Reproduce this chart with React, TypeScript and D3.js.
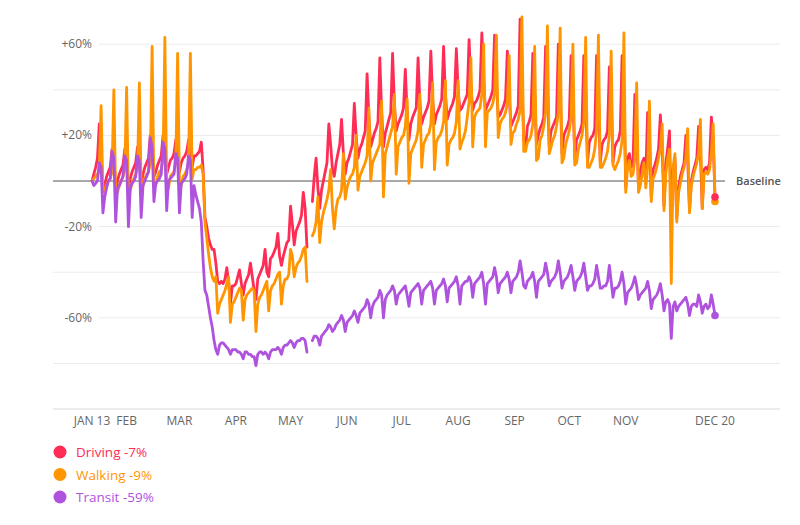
import React from "react";
import * as d3 from "d3";

// Daily values (% change vs Jan 13 baseline), one row per week Mon..Sun, Jan 13 – Dec 20 2020
const drivingWeeks: (number | null)[][] = [
  [0, 3, 6, 10, 25, 12, -3],
  [-2, 2, 4, 6, 14, 10, -4],
  [0, 3, 5, 7, 14, 10, -3],
  [1, 4, 6, 8, 15, 11, -2],
  [3, 6, 8, 10, 20, 14, 2],
  [4, 7, 9, 11, 20, 15, 3],
  [6, 9, 10, 12, 18, 14, 4],
  [8, 10, 11, 13, 18, 13, 6],
  [11, 11, 12, 13, 17, 5, -16],
  [-20, -25, -28, -30, -30, -36, -44],
  [-45, -44, -45, -43, -38, -44, -54],
  [-46, -46, -45, -42, -39, -45, -50],
  [-45, -43, -41, -36, -42, -48, -52],
  [-43, -41, -39, -37, -30, -40, -42],
  [-34, -33, -31, -29, -23, -33, -37],
  [-33, -30, -27, -26, -11, -19, -28],
  [-22, -20, -18, -15, -5, -12, -29],
  [null, null, -9, 2, 10, -3, -12],
  [-4, 0, 4, 8, 25, 16, 5],
  [2, 8, 12, 16, 27, 12, 3],
  [8, 10, 13, 16, 34, 20, 10],
  [14, 16, 19, 22, 47, 28, 15],
  [18, 21, 23, 26, 54, 30, 15],
  [21, 24, 27, 30, 56, 34, 22],
  [25, 27, 29, 32, 49, 30, 18],
  [25, 28, 30, 32, 54, 34, 25],
  [28, 30, 32, 35, 57, 36, 25],
  [29, 31, 33, 36, 59, 38, 27],
  [30, 32, 34, 37, 58, 40, 31],
  [32, 34, 36, 38, 62, 42, 31],
  [34, 35, 37, 40, 65, 44, 31],
  [33, 35, 37, 40, 64, 44, 28],
  [29, 31, 33, 36, 57, 38, 24],
  [26, 28, 30, 33, 71, 44, 18],
  [14, 24, 26, 29, 56, 38, 16],
  [20, 23, 25, 28, 59, 40, 15],
  [22, 24, 26, 28, 60, 40, 12],
  [20, 22, 24, 27, 55, 38, 10],
  [18, 20, 22, 25, 55, 38, 8],
  [17, 19, 20, 23, 55, 38, 8],
  [16, 18, 19, 22, 50, 35, 8],
  [15, 17, 18, 22, 55, 38, -3],
  [10, 12, 6, 8, 38, 22, -3],
  [4, 8, 10, 2, 30, 20, -7],
  [5, 7, 10, 14, 29, 15, -11],
  [8, 14, 22, -18, 5, 10, -16],
  [-3, 2, 5, 8, 20, 10, -13],
  [0, 4, 7, 10, 24, 12, -12],
  [5, 6, 5, 8, 28, 18, -7],
];

const walkingWeeks: (number | null)[][] = [
  [0, 1, 2, 3, 5, 33, -5],
  [-4, -2, 0, 1, 4, 40, -6],
  [-5, -2, 0, 2, 5, 41, -7],
  [-4, -1, 1, 3, 6, 43, -3],
  [-2, 1, 3, 4, 8, 59, -2],
  [-2, 2, 4, 5, 9, 63, -1],
  [-3, 2, 3, 4, 8, 56, 0],
  [-2, 2, 3, 5, 8, 56, 1],
  [5, 5, 6, 6, 7, 3, -18],
  [-25, -32, -38, -42, -44, -42, -58],
  [-54, -52, -50, -48, -45, -42, -62],
  [-54, -53, -51, -49, -47, -48, -61],
  [-52, -50, -49, -48, -47, -48, -66],
  [-54, -51, -50, -48, -46, -44, -57],
  [-48, -46, -45, -43, -41, -40, -54],
  [-46, -43, -43, -41, -30, -33, -42],
  [-38, -36, -35, -33, -30, -29, -44],
  [null, null, -24, -22, -18, -7, -27],
  [-18, -14, -11, -8, -4, 5, -12],
  [-21, -12, -8, -7, -4, 12, -8],
  [-3, 0, 2, 3, 6, 20, -4],
  [2, 4, 6, 8, 11, 32, 0],
  [8, 10, 12, 14, 16, 35, -7],
  [12, 15, 18, 21, 24, 38, 3],
  [15, 17, 19, 20, 24, 36, -1],
  [12, 14, 16, 18, 22, 38, 6],
  [16, 18, 20, 21, 25, 43, 5],
  [17, 19, 20, 22, 26, 44, 7],
  [16, 18, 19, 21, 26, 44, 14],
  [17, 19, 22, 28, 35, 54, 15],
  [28, 30, 31, 32, 38, 60, 15],
  [30, 31, 32, 34, 38, 64, 19],
  [25, 27, 28, 30, 34, 55, 16],
  [21, 22, 25, 27, 31, 72, 13],
  [13, 17, 18, 20, 25, 59, 9],
  [10, 18, 20, 24, 30, 68, 12],
  [15, 18, 20, 24, 30, 67, 8],
  [10, 16, 19, 22, 28, 60, 7],
  [8, 14, 17, 20, 26, 63, 6],
  [6, 8, 10, 14, 22, 64, 6],
  [6, 8, 10, 13, 20, 57, 7],
  [5, 7, 9, 12, 18, 65, -5],
  [6, 9, 2, 3, 10, 43, -5],
  [-2, 3, 8, -3, 6, 35, -9],
  [1, 3, 6, 10, 14, 25, -13],
  [3, 10, 14, -45, 6, 12, -18],
  [-5, -1, 3, 6, 10, 23, -14],
  [-2, 2, 5, 8, 12, 27, -12],
  [3, 4, 3, 5, 12, 25, -9],
];

const transitWeeks: (number | null)[][] = [
  [0, -2, -1, 0, 8, 6, -14],
  [-7, -3, 0, 1, 13, 10, -18],
  [-3, -2, 0, 2, 11, 9, -20],
  [-3, -1, 0, 2, 11, 9, -16],
  [-2, 0, 2, 4, 19, 15, -9],
  [-1, 0, 1, 3, 17, 14, -13],
  [0, 1, 2, 3, 12, 10, -14],
  [-1, 0, 1, 3, 11, 9, -16],
  [-2, -6, -9, -12, -18, -35, -48],
  [-50, -55, -60, -64, -70, -74, -76],
  [-72, -71, -71, -72, -73, -74, -76],
  [-74, -74, -74, -75, -75, -76, -78],
  [-75, -75, -76, -76, -77, -77, -81],
  [-76, -75, -75, -76, -75, -76, -78],
  [-75, -74, -74, -74, -73, -74, -76],
  [-73, -72, -72, -71, -70, -71, -73],
  [-71, -70, -70, -69, -69, -70, -75],
  [null, null, -70, -68, -68, -69, -72],
  [-68, -67, -66, -65, -63, -64, -66],
  [-65, -63, -62, -61, -59, -61, -66],
  [-62, -61, -60, -59, -57, -59, -62],
  [-58, -57, -56, -55, -52, -54, -60],
  [-55, -53, -52, -51, -48, -50, -60],
  [-52, -50, -49, -48, -46, -48, -54],
  [-50, -49, -48, -47, -46, -50, -55],
  [-49, -48, -47, -46, -45, -47, -54],
  [-48, -47, -46, -45, -44, -47, -54],
  [-48, -47, -46, -45, -43, -46, -53],
  [-47, -46, -45, -44, -42, -46, -54],
  [-46, -45, -44, -44, -42, -44, -51],
  [-45, -44, -43, -42, -40, -45, -54],
  [-45, -44, -43, -42, -38, -42, -49],
  [-45, -44, -43, -42, -40, -43, -49],
  [-44, -43, -42, -40, -35, -40, -46],
  [-47, -44, -43, -42, -40, -44, -51],
  [-44, -43, -42, -41, -36, -40, -46],
  [-44, -43, -42, -40, -35, -40, -47],
  [-44, -43, -42, -40, -37, -42, -48],
  [-44, -43, -42, -40, -36, -42, -48],
  [-46, -46, -45, -43, -37, -42, -47],
  [-47, -46, -46, -44, -37, -44, -51],
  [-47, -47, -46, -44, -40, -45, -54],
  [-49, -48, -47, -45, -42, -46, -52],
  [-50, -49, -48, -47, -44, -48, -56],
  [-52, -51, -50, -48, -45, -50, -57],
  [-53, -52, -54, -69, -55, -53, -57],
  [-55, -54, -53, -52, -51, -54, -59],
  [-55, -54, -54, -55, -50, -53, -58],
  [-55, -54, -56, -55, -50, -54, -59],
];

const yTickValues = [60, 20, -20, -60];
const yTickLabels = ["+60%", "+20%", "-20%", "-60%"];
const yPlainGrid = [40, -40, -80];

const xTickDates = [
  [2020, 0, 13], [2020, 1, 1], [2020, 2, 1], [2020, 3, 1], [2020, 4, 1], [2020, 5, 1],
  [2020, 6, 1], [2020, 7, 1], [2020, 8, 1], [2020, 9, 1], [2020, 10, 1], [2020, 11, 20],
];
const xTickLabels = ["JAN 13", "FEB", "MAR", "APR", "MAY", "JUN", "JUL", "AUG", "SEP", "OCT", "NOV", "DEC 20"];

const seriesNames = ["Driving", "Walking", "Transit"];
const seriesColors = ["#ff2d55", "#ff9500", "#af52de"];
const seriesLatest = ["-7%", "-9%", "-59%"];

const driving = drivingWeeks.flat();
const walking = walkingWeeks.flat();
const transit = transitWeeks.flat();

const START = new Date(Date.UTC(2020, 0, 13));
const END = new Date(Date.UTC(2020, 11, 20));
const dates = driving.map((_, i) => d3.utcDay.offset(START, i));

const FONT = "'Open Sans', 'Noto Sans', sans-serif";

export default function App() {
  const x = d3.scaleUtc().domain([START, END]).range([92, 715]);
  const y = d3.scaleLinear().domain([-100, 80]).range([409, -1.4]);

  const line = d3
    .line<number | null>()
    .defined((v) => v != null)
    .x((_, i) => x(dates[i]))
    .y((v) => y(v as number));

  const series = [driving, walking, transit];
  const lastIdx = dates.length - 1;

  return (
    <svg
      width={800}
      height={525}
      style={{ position: "absolute", left: 0, top: 0, background: "#fff" }}
      fontFamily={FONT}
    >
      {yPlainGrid.map((v) => (
        <line key={"g" + v} x1={53} x2={780} y1={y(v)} y2={y(v)} stroke="#ebebeb" strokeWidth={1} />
      ))}
      {yTickValues.map((v, i) => (
        <g key={"t" + v}>
          <line x1={99} x2={780} y1={y(v)} y2={y(v)} stroke="#ebebeb" strokeWidth={1} />
          <text x={92} y={y(v) + 4} textAnchor="end" fontSize={12} fill="#666">
            {yTickLabels[i]}
          </text>
        </g>
      ))}
      <line x1={53} x2={780} y1={y(-100)} y2={y(-100)} stroke="#e6e6e6" strokeWidth={1.5} />
      <line x1={53} x2={725} y1={y(0)} y2={y(0)} stroke="#555" strokeWidth={1} />
      <text x={736} y={y(0) + 4} fontSize={11} fontWeight={600} fill="#555">
        Baseline
      </text>

      {series.map((s, k) => (
        <path
          key={seriesNames[k]}
          d={line(s) || ""}
          fill="none"
          stroke={seriesColors[k]}
          strokeWidth={2.8}
          strokeLinejoin="round"
          strokeLinecap="round"
        />
      ))}

      {[1, 2, 0].map((k) => (
        <circle
          key={"dot" + k}
          cx={x(dates[lastIdx])}
          cy={y(series[k][lastIdx] as number)}
          r={3.8}
          fill={seriesColors[k]}
        />
      ))}

      {xTickDates.map((d, i) => (
        <text
          key={xTickLabels[i]}
          x={x(new Date(Date.UTC(d[0], d[1], d[2])))}
          y={425}
          textAnchor="middle"
          fontSize={12}
          fill="#666"
        >
          {xTickLabels[i]}
        </text>
      ))}

      {seriesNames.map((n, k) => (
        <g key={"leg" + n}>
          <circle cx={60} cy={452 + k * 22.5} r={6.5} fill={seriesColors[k]} />
          <text x={76} y={457 + k * 22.5} fontSize={13.5} fill={seriesColors[k]}>
            {n} {seriesLatest[k]}
          </text>
        </g>
      ))}
    </svg>
  );
}
